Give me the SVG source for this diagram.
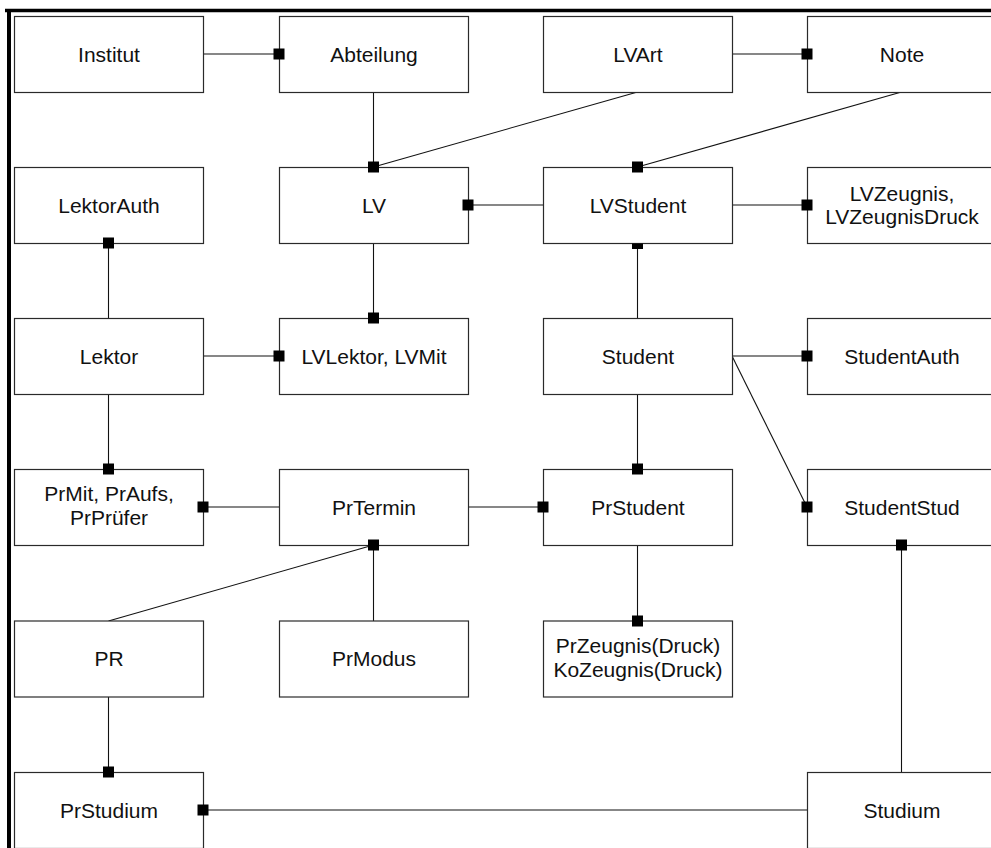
<svg xmlns="http://www.w3.org/2000/svg" width="991" height="848" viewBox="0 0 991 848">
  <style>
    .box { fill: #ffffff; stroke: #2a2a2a; stroke-width: 1.2; }
    .lbl { font-family: "Liberation Sans", Arial, Helvetica, sans-serif; font-size: 21px; fill: #111111; text-anchor: middle; }
    .edge { fill: none; stroke: #111111; stroke-width: 1.1; }
    .end { fill: #000000; }
    .frame { stroke: #000000; fill: none; }
  </style>
  <defs>
    <rect id="sq" class="end" x="-5.5" y="-5.5" width="11" height="11"/>
  </defs>

  <rect x="0" y="0" width="991" height="848" fill="#ffffff"/>

  <!-- thick frame on top and left -->
  <line class="frame" x1="5" y1="10.5" x2="991" y2="10.5" stroke-width="3.5"/>
  <line class="frame" x1="9" y1="9" x2="9" y2="848" stroke-width="4"/>

  <!-- relationships -->
  <g id="connectors">
    <path class="edge" d="M203,54 H279"/>
    <path class="edge" d="M732,54 H807"/>
    <path class="edge" d="M373.5,92 V167"/>
    <path class="edge" d="M637.5,92 L373.5,167"/>
    <path class="edge" d="M901.5,92 L637.5,167"/>
    <path class="edge" d="M468,205 H543"/>
    <path class="edge" d="M732,205 H807"/>
    <path class="edge" d="M637.5,243 V318"/>
    <path class="edge" d="M108.5,243 V318"/>
    <path class="edge" d="M373.5,243 V318"/>
    <path class="edge" d="M203,356 H279"/>
    <path class="edge" d="M732,356 H807"/>
    <path class="edge" d="M732,356 L807,507"/>
    <path class="edge" d="M108.5,394 V469"/>
    <path class="edge" d="M637.5,394 V469"/>
    <path class="edge" d="M203,507 H279"/>
    <path class="edge" d="M468,507 H543"/>
    <path class="edge" d="M108.5,621 L373.5,545"/>
    <path class="edge" d="M373.5,621 V545"/>
    <path class="edge" d="M637.5,545 V621"/>
    <path class="edge" d="M901.5,545 V772"/>
    <path class="edge" d="M108.5,697 V772"/>
    <path class="edge" d="M203,810 H807"/>
  </g>

  <!-- entities -->
  <g id="institut"><rect class="box" x="14.5" y="16.5" width="189" height="76"/><text class="lbl" x="109" y="62">Institut</text></g>
  <g id="abteilung"><rect class="box" x="279.5" y="16.5" width="189" height="76"/><text class="lbl" x="374" y="62">Abteilung</text></g>
  <g id="lvart"><rect class="box" x="543.5" y="16.5" width="189" height="76"/><text class="lbl" x="638" y="62">LVArt</text></g>
  <g id="note"><rect class="box" x="807.5" y="16.5" width="189" height="76"/><text class="lbl" x="902" y="62">Note</text></g>

  <g id="lektorauth"><rect class="box" x="14.5" y="167.5" width="189" height="76"/><text class="lbl" x="109" y="213">LektorAuth</text></g>
  <g id="lv"><rect class="box" x="279.5" y="167.5" width="189" height="76"/><text class="lbl" x="374" y="213">LV</text></g>
  <g id="lvstudent"><rect class="box" x="543.5" y="167.5" width="189" height="76"/><text class="lbl" x="638" y="213">LVStudent</text></g>
  <g id="lvzeugnis"><rect class="box" x="807.5" y="167.5" width="189" height="76"/><text class="lbl" x="902" y="201">LVZeugnis,</text><text class="lbl" x="902" y="224">LVZeugnisDruck</text></g>

  <g id="lektor"><rect class="box" x="14.5" y="318.5" width="189" height="76"/><text class="lbl" x="109" y="364">Lektor</text></g>
  <g id="lvlektor"><rect class="box" x="279.5" y="318.5" width="189" height="76"/><text class="lbl" x="374" y="364">LVLektor, LVMit</text></g>
  <g id="student"><rect class="box" x="543.5" y="318.5" width="189" height="76"/><text class="lbl" x="638" y="364">Student</text></g>
  <g id="studentauth"><rect class="box" x="807.5" y="318.5" width="189" height="76"/><text class="lbl" x="902" y="364">StudentAuth</text></g>

  <g id="prmit"><rect class="box" x="14.5" y="469.5" width="189" height="76"/><text class="lbl" x="109" y="501">PrMit, PrAufs,</text><text class="lbl" x="109" y="525">PrPrüfer</text></g>
  <g id="prtermin"><rect class="box" x="279.5" y="469.5" width="189" height="76"/><text class="lbl" x="374" y="515">PrTermin</text></g>
  <g id="prstudent"><rect class="box" x="543.5" y="469.5" width="189" height="76"/><text class="lbl" x="638" y="515">PrStudent</text></g>
  <g id="studentstud"><rect class="box" x="807.5" y="469.5" width="189" height="76"/><text class="lbl" x="902" y="515">StudentStud</text></g>

  <g id="pr"><rect class="box" x="14.5" y="621" width="189" height="76"/><text class="lbl" x="109" y="666">PR</text></g>
  <g id="prmodus"><rect class="box" x="279.5" y="621" width="189" height="76"/><text class="lbl" x="374" y="666">PrModus</text></g>
  <g id="przeugnis"><rect class="box" x="543.5" y="621" width="189" height="76"/><text class="lbl" x="638" y="653">PrZeugnis(Druck)</text><text class="lbl" x="638" y="677">KoZeugnis(Druck)</text></g>

  <g id="prstudium"><rect class="box" x="14.5" y="772.5" width="189" height="76"/><text class="lbl" x="109" y="818">PrStudium</text></g>
  <g id="studium"><rect class="box" x="807.5" y="772.5" width="189" height="76"/><text class="lbl" x="902" y="818">Studium</text></g>

  <!-- many-side end squares -->
  <g id="ends">
    <use href="#sq" x="279" y="54"/>
    <use href="#sq" x="807" y="54"/>
    <use href="#sq" x="373.5" y="167"/>
    <use href="#sq" x="637.5" y="167"/>
    <use href="#sq" x="468" y="205"/>
    <use href="#sq" x="807" y="205"/>
    <rect class="end" x="632" y="243.5" width="11" height="5.5"/>
    <use href="#sq" x="108.5" y="243"/>
    <use href="#sq" x="373.5" y="318"/>
    <use href="#sq" x="279" y="356"/>
    <use href="#sq" x="807" y="356"/>
    <use href="#sq" x="807" y="507"/>
    <use href="#sq" x="108.5" y="469"/>
    <use href="#sq" x="637.5" y="469"/>
    <use href="#sq" x="203" y="507"/>
    <use href="#sq" x="543" y="507"/>
    <use href="#sq" x="373.5" y="545"/>
    <use href="#sq" x="637.5" y="621"/>
    <use href="#sq" x="901.5" y="545"/>
    <use href="#sq" x="108.5" y="772"/>
    <use href="#sq" x="203" y="810"/>
  </g>
</svg>
